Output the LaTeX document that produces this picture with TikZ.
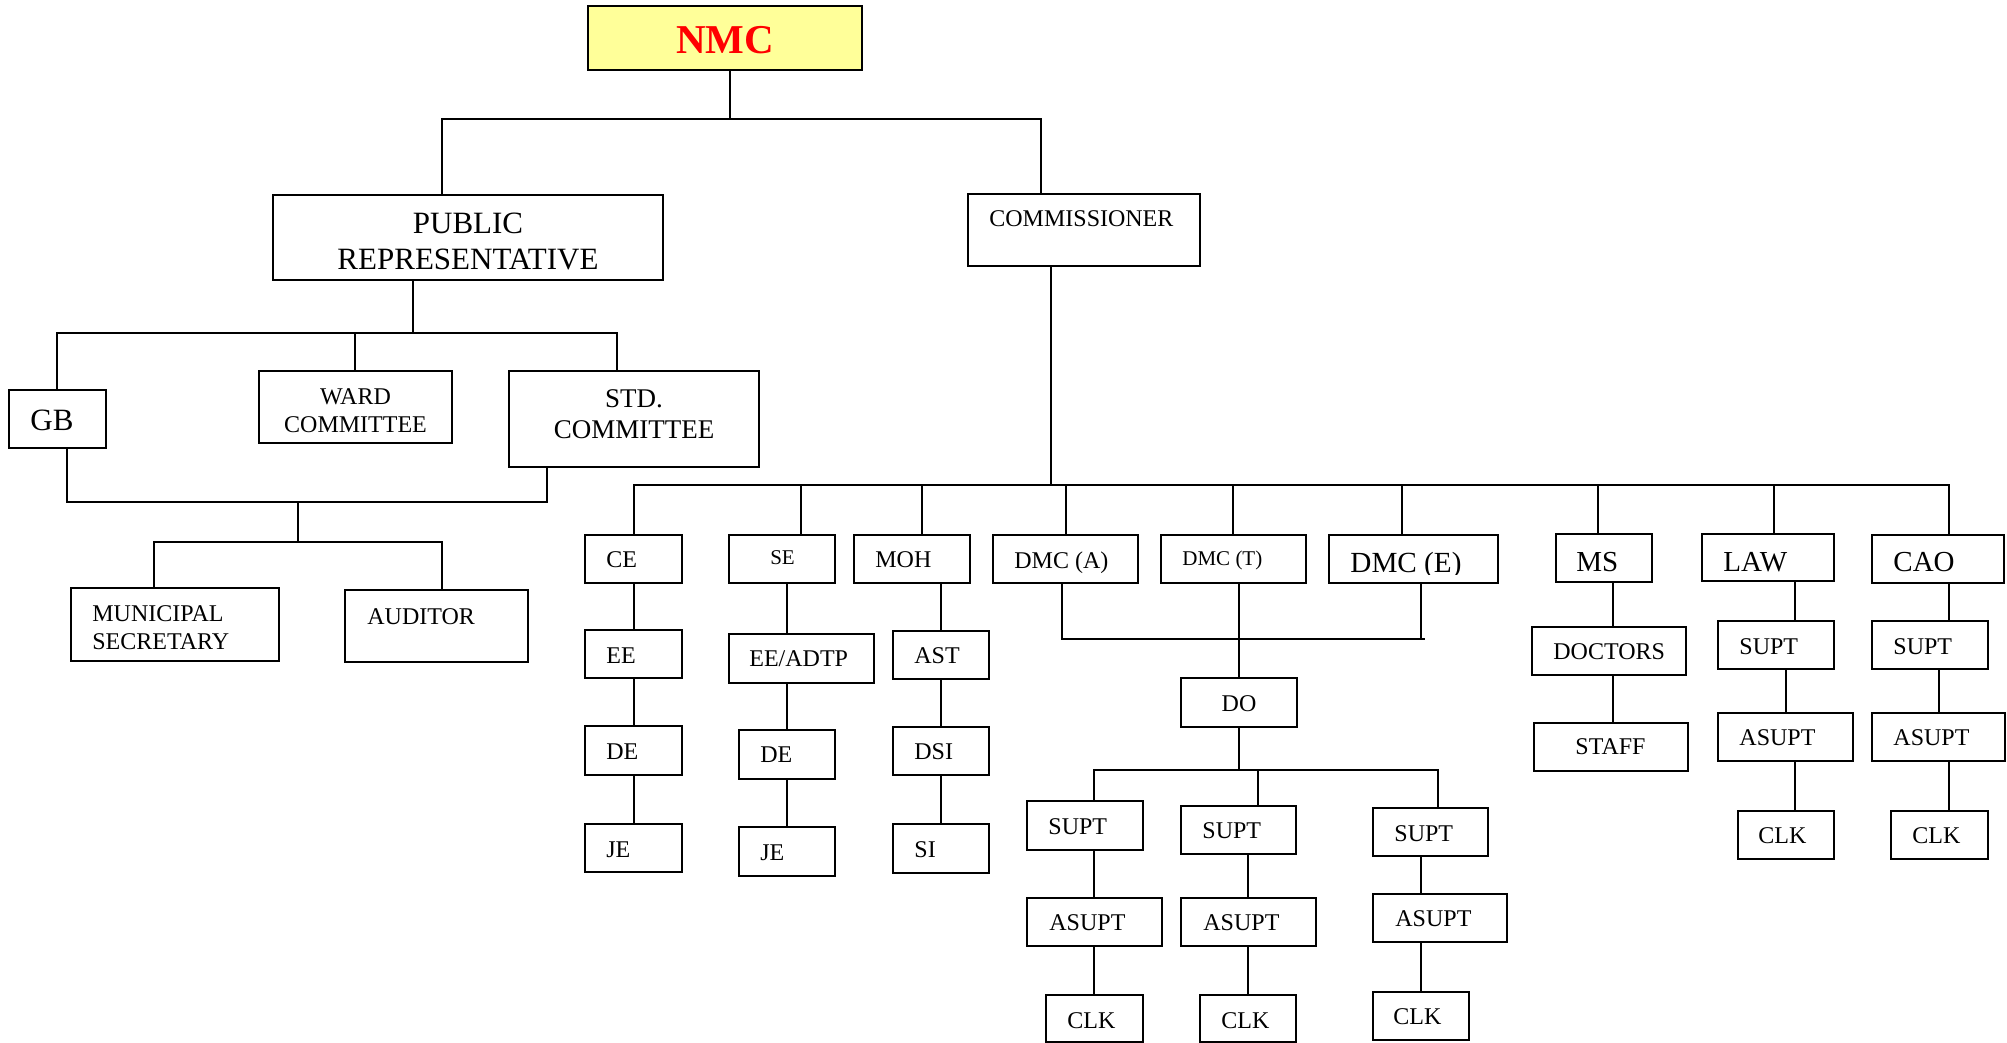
\documentclass[tikz,border=0pt]{standalone}
\usepackage{fontspec}
\setmainfont{Liberation Serif}
\usetikzlibrary{fit}
\definecolor{nmcyellow}{HTML}{FFFF99}
\definecolor{nmcred}{HTML}{FF0000}
\newcommand\orgbox[6][]{\node[box,#1,fit={(#3,#4) (#5,#6)}] (#2) {};}
\newcommand\vcon[3]{\draw[con] (#1,0 |- #2.south) -- (#1,0 |- #3.north);}
\begin{document}
\begin{tikzpicture}[x=0.5pt,y=-0.5pt,
  box/.style={draw, line width=1pt, inner sep=0pt, rectangle},
  con/.style={line width=0.9pt},
  lbl/.style={inner sep=0pt, anchor=base west, font=\fontsize{12pt}{14pt}\selectfont},
  lblc/.style={lbl, anchor=base},
  big/.style={font=\fontsize{15.5pt}{18pt}\selectfont},
  mid/.style={font=\fontsize{14.5pt}{17pt}\selectfont},
  small/.style={font=\fontsize{10.5pt}{12pt}\selectfont}]
\useasboundingbox[fill=white] (0,0) rectangle (2007,1043);

% ---------- boxes ----------
\orgbox[fill=nmcyellow]{nmc}{588}{6}{862}{70}
\orgbox{pr}{273}{195}{663}{280}
\orgbox{com}{968}{194}{1200}{266}
\orgbox{gb}{9}{390}{106}{448}
\orgbox{ward}{259}{371}{452}{443}
\orgbox{std}{509}{371}{759}{467}
\orgbox{mun}{71}{588}{279}{661}
\orgbox{aud}{345}{590}{528}{662}
\orgbox{ce}{585}{535}{682}{583}
\orgbox{ee}{585}{630}{682}{678}
\orgbox{de}{585}{726}{682}{775}
\orgbox{je}{585}{824}{682}{872}
\orgbox{se}{729}{535}{835}{583}
\orgbox{eea}{729}{634}{874}{683}
\orgbox{detwo}{739}{730}{835}{779}
\orgbox{jetwo}{739}{827}{835}{876}
\orgbox{moh}{854}{535}{970}{583}
\orgbox{ast}{893}{631}{989}{679}
\orgbox{dsi}{893}{727}{989}{775}
\orgbox{si}{893}{824}{989}{873}
\orgbox{dmca}{993}{535}{1138}{583}
\orgbox{dmct}{1161}{535}{1306}{583}
\orgbox{dmce}{1329}{535}{1498}{583}
\orgbox{dof}{1181}{678}{1297}{727}
\orgbox{supa}{1027}{801}{1143}{850}
\orgbox{supb}{1181}{806}{1296}{854}
\orgbox{supc}{1373}{808}{1488}{856}
\orgbox{asa}{1027}{898}{1162}{946}
\orgbox{asb}{1181}{898}{1316}{946}
\orgbox{asc}{1373}{894}{1507}{942}
\orgbox{clka}{1046}{995}{1143}{1042}
\orgbox{clkb}{1200}{995}{1296}{1042}
\orgbox{clkc}{1373}{992}{1469}{1040}
\orgbox{ms}{1556}{534}{1652}{582}
\orgbox{doc}{1532}{627}{1686}{675}
\orgbox{staff}{1534}{723}{1688}{771}
\orgbox{law}{1702}{534}{1834}{581}
\orgbox{supl}{1718}{621}{1834}{669}
\orgbox{asl}{1718}{713}{1853}{761}
\orgbox{clkl}{1738}{811}{1834}{859}
\orgbox{cao}{1872}{535}{2004}{583}
\orgbox{supo}{1872}{621}{1988}{669}
\orgbox{aso}{1872}{713}{2005}{761}
\orgbox{clko}{1891}{811}{1988}{859}

% ---------- texts ----------
\node[lblc, text=nmcred, font=\fontsize{20.5pt}{24pt}\selectfont\bfseries] (t-nmc) at (725,54) {NMC};
\node[lblc, big] (t-pr1) at (468,234) {PUBLIC};
\node[lblc, big] (t-pr2) at (468,270) {REPRESENTATIVE};
\node[lbl] (t-com) at (989,227) {COMMISSIONER};
\node[lbl, big] (t-gb) at (30,430) {GB};
\node[lblc] (t-w1) at (355.5,404) {WARD};
\node[lblc] (t-w2) at (355.5,432) {COMMITTEE};
\node[lblc, font=\fontsize{13.5pt}{16pt}\selectfont] (t-s1) at (634,407) {STD.};
\node[lblc, font=\fontsize{13.5pt}{16pt}\selectfont] (t-s2) at (634,438) {COMMITTEE};
\node[lbl] (t-m1) at (92,621) {MUNICIPAL};
\node[lbl] (t-m2) at (92,649) {SECRETARY};
\node[lbl] (t-aud) at (367,624) {AUDITOR};
\node[lbl] (t-ce) at (606,567) {CE};
\node[lbl] (t-ee) at (606,663) {EE};
\node[lbl] (t-de) at (606,759) {DE};
\node[lbl] (t-je) at (606,857) {JE};
\node[lblc, small] (t-se) at (782.5,564) {SE};
\node[lbl] (t-eea) at (749,666) {EE/ADTP};
\node[lbl] (t-detwo) at (760,762) {DE};
\node[lbl] (t-jetwo) at (760,860) {JE};
\node[lbl] (t-moh) at (875,567) {MOH};
\node[lbl] (t-ast) at (914,663) {AST};
\node[lbl] (t-dsi) at (914,759) {DSI};
\node[lbl] (t-si) at (914,857) {SI};
\node[lbl] (t-dmca) at (1014,568) {DMC (A)};
\node[lbl, small] (t-dmct) at (1182,565) {DMC (T)};
\begin{scope}
\clip (1329,535) rectangle (1498,574);
\node[lbl, font=\fontsize{14.6pt}{17pt}\selectfont] (t-dmce) at (1350,572) {DMC (E)};
\end{scope}
\node[lblc] (t-do) at (1239,711) {DO};
\node[lbl] (t-supa) at (1048,834) {SUPT};
\node[lbl] (t-supb) at (1202,838) {SUPT};
\node[lbl] (t-supc) at (1394,841) {SUPT};
\node[lbl] (t-asa) at (1049,930) {ASUPT};
\node[lbl] (t-asb) at (1203,930) {ASUPT};
\node[lbl] (t-asc) at (1395,926) {ASUPT};
\node[lbl] (t-clka) at (1067,1028) {CLK};
\node[lbl] (t-clkb) at (1221,1028) {CLK};
\node[lbl] (t-clkc) at (1393,1024) {CLK};
\node[lbl, mid] (t-ms) at (1576,571) {MS};
\node[lbl, mid] (t-law) at (1723,571) {LAW};
\node[lbl, mid] (t-cao) at (1893,571) {CAO};
\node[lbl] (t-doc) at (1553,659) {DOCTORS};
\node[lbl] (t-staff) at (1575,754) {STAFF};
\node[lbl] (t-supl) at (1739,654) {SUPT};
\node[lbl] (t-asl) at (1739,745) {ASUPT};
\node[lbl] (t-clkl) at (1758,843) {CLK};
\node[lbl] (t-supo) at (1893,654) {SUPT};
\node[lbl] (t-aso) at (1893,745) {ASUPT};
\node[lbl] (t-clko) at (1912,843) {CLK};

% ---------- connectors ----------
% top level
\draw[con] (730,0 |- nmc.south) -- (730,119);
\draw[con] (442,0 |- pr.north) |- (730,119) -| (1041,0 |- com.north);
% public representative branch
\draw[con] (413,0 |- pr.south) -- (413,333);
\draw[con] (57,0 |- gb.north) |- (617,333) -- (617,0 |- std.north);
\draw[con] (355,333) -- (355,0 |- ward.north);
\draw[con] (67,0 |- gb.south) |- (547,502) -- (547,0 |- std.south);
\draw[con] (298,502) -- (298,542);
\draw[con] (154,0 |- mun.north) |- (442,542) -- (442,0 |- aud.north);
% commissioner branch
\draw[con] (1051,0 |- com.south) -- (1051,485);
\draw[con] (634,0 |- ce.north) |- (1949,485) -- (1949,0 |- cao.north);
\foreach \xx/\nn in {801/se, 922/moh, 1066/dmca, 1233/dmct, 1402/dmce, 1598/ms, 1774/law}
  {\draw[con] (\xx,485) -- (\xx,0 |- \nn.north);}
% engineering columns
\vcon{634}{ce}{ee}
\vcon{634}{ee}{de}
\vcon{634}{de}{je}
\vcon{787}{se}{eea}
\vcon{787}{eea}{detwo}
\vcon{787}{detwo}{jetwo}
\vcon{941}{moh}{ast}
\vcon{941}{ast}{dsi}
\vcon{941}{dsi}{si}
% DMC to DO
\draw[con] (1062,0 |- dmca.south) |- (1425,639);
\draw[con] (1421,0 |- dmce.south) -- (1421,639);
\vcon{1239}{dmct}{dof}
\draw[con] (1239,0 |- dof.south) -- (1239,770);
\draw[con] (1094,0 |- supa.north) |- (1438,770) -- (1438,0 |- supc.north);
\draw[con] (1258,770) -- (1258,0 |- supb.north);
\vcon{1094}{supa}{asa}
\vcon{1094}{asa}{clka}
\vcon{1248}{supb}{asb}
\vcon{1248}{asb}{clkb}
\vcon{1421}{supc}{asc}
\vcon{1421}{asc}{clkc}
% MS, LAW, CAO
\vcon{1613}{ms}{doc}
\vcon{1613}{doc}{staff}
\vcon{1795}{law}{supl}
\vcon{1786}{supl}{asl}
\vcon{1795}{asl}{clkl}
\vcon{1949}{cao}{supo}
\vcon{1939}{supo}{aso}
\vcon{1949}{aso}{clko}
\end{tikzpicture}
\end{document}
